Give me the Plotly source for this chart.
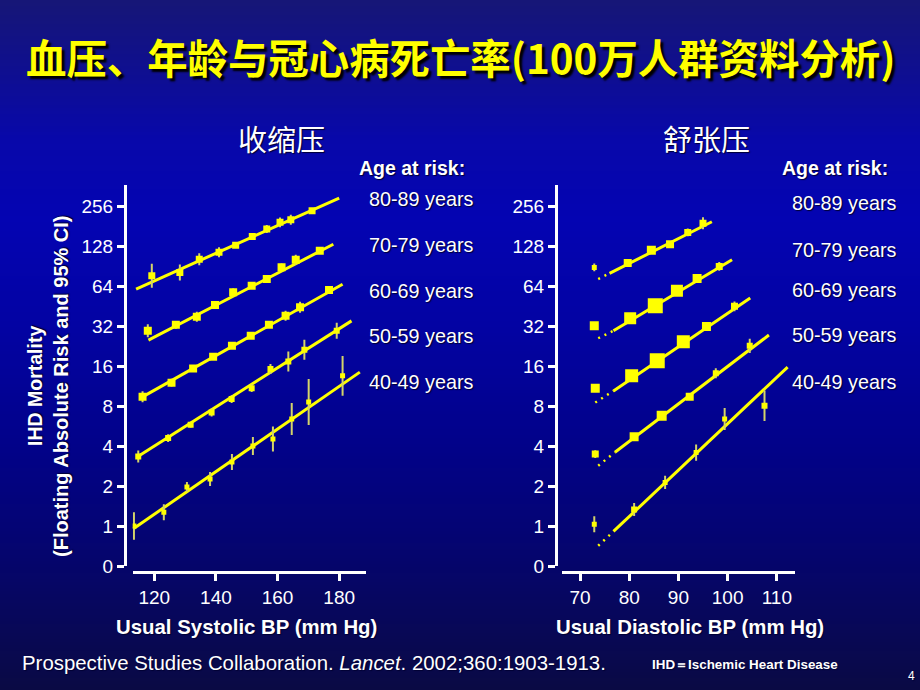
import plotly.graph_objects as go

# ---------------- data ----------------
y_tick_vals = [0.5, 1, 2, 4, 8, 16, 32, 64, 128, 256]
y_tick_text = ["0", "1", "2", "4", "8", "16", "32", "64", "128", "256"]
sys_tick_vals = [120, 140, 160, 180]
dia_tick_vals = [70, 80, 90, 100, 110]
age_labels = ["80-89 years", "70-79 years", "60-69 years", "50-59 years", "40-49 years"]

# Systolic panel: usual SBP (mm Hg), IHD mortality (floating absolute risk), CI factor
sys_bp_80_89 = [119.2, 128.3, 134.6, 141.0, 146.4, 151.8, 156.5, 160.8, 164.3, 171.2]
sys_rate_80_89 = [76.6, 81, 102, 115, 130, 151, 172, 193, 202, 236]
sys_ci_80_89 = [1.23, 1.15, 1.11, 1.09, 1.05, 1.05, 1.07, 1.09, 1.09, 1.05]
sys_bp_70_79 = [117.9, 127.0, 133.8, 139.7, 145.6, 151.6, 156.5, 161.3, 165.9, 173.7]
sys_rate_70_79 = [29.5, 32.7, 37.6, 46.1, 57.4, 64.4, 72.3, 88.6, 101, 118]
sys_ci_70_79 = [1.12, 1.07, 1.09, 1.05, 1.07, 1.05, 1.05, 1.07, 1.09, 1.05]
sys_bp_60_69 = [116.2, 125.6, 132.6, 139.1, 145.2, 151.3, 157.2, 162.6, 167.3, 176.7]
sys_rate_60_69 = [9.4, 12.0, 15.3, 18.8, 22.7, 27.1, 32.7, 38.3, 44.3, 59.7]
sys_ci_60_69 = [1.10, 1.07, 1.05, 1.05, 1.05, 1.05, 1.05, 1.09, 1.10, 1.05]
sys_bp_50_59 = [114.8, 124.5, 131.8, 138.6, 145.1, 151.6, 157.7, 163.5, 168.7, 179.2]
sys_rate_50_59 = [3.34, 4.59, 5.78, 7.15, 9.03, 10.9, 15.2, 17.3, 21.2, 29.5]
sys_ci_50_59 = [1.11, 1.07, 1.05, 1.07, 1.07, 1.07, 1.09, 1.19, 1.19, 1.15]
sys_bp_40_49 = [113.4, 123.1, 130.6, 138.1, 145.2, 152.0, 158.5, 164.6, 170.1, 181.1]
sys_rate_40_49 = [1.0, 1.27, 1.97, 2.26, 3.03, 4.0, 4.52, 6.39, 8.57, 13.5]
sys_ci_40_49 = [1.27, 1.15, 1.09, 1.13, 1.15, 1.17, 1.24, 1.32, 1.49, 1.41]

# Systolic regression lines (start/end)
sys_fit_bp_80_89 = [114.1, 180.0]
sys_fit_rate_80_89 = [60.8, 294]
sys_fit_bp_70_79 = [118.1, 178.1]
sys_fit_rate_70_79 = [25.1, 132]
sys_fit_bp_60_69 = [115.9, 181.1]
sys_fit_rate_60_69 = [9.3, 66]
sys_fit_bp_50_59 = [114.3, 184.0]
sys_fit_rate_50_59 = [3.29, 35]
sys_fit_bp_40_49 = [113.1, 186.7]
sys_fit_rate_40_49 = [0.95, 14.4]

# Diastolic panel
dia_bp_80_89 = [72.9, 79.7, 84.5, 88.3, 91.9, 95.0]
dia_rate_80_89 = [88.4, 95.3, 119, 132, 162, 190]
dia_ci_80_89 = [1.07, 1.04, 1.04, 1.04, 1.07, 1.11]
dia_bp_70_79 = [72.9, 80.2, 85.3, 89.7, 93.8, 98.3]
dia_rate_70_79 = [32.2, 36.6, 45.5, 59, 73.1, 90]
dia_ci_70_79 = [1.04, 1.03, 1.03, 1.03, 1.04, 1.08]
dia_bp_60_69 = [73.1, 80.5, 85.7, 91.0, 95.7, 101.4]
dia_rate_60_69 = [10.9, 13.5, 17.5, 24.4, 31.8, 45]
dia_ci_60_69 = [1.04, 1.03, 1.03, 1.03, 1.04, 1.09]
dia_bp_50_59 = [73.1, 81.0, 86.6, 92.3, 97.6, 104.5]
dia_rate_50_59 = [3.48, 4.7, 6.75, 9.4, 14.1, 22.7]
dia_ci_50_59 = [1.07, 1.04, 1.03, 1.04, 1.09, 1.13]
dia_bp_40_49 = [72.9, 81.0, 87.3, 93.6, 99.4, 107.5]
dia_rate_40_49 = [1.03, 1.33, 2.13, 3.57, 6.39, 8.04]
dia_ci_40_49 = [1.15, 1.12, 1.12, 1.15, 1.21, 1.30]

# Diastolic regression lines (solid) and dotted extrapolations
dia_fit_bp_80_89 = [76.0, 96.8]
dia_fit_rate_80_89 = [79.8, 195]
dia_dot_bp_80_89 = [73.7, 76.0]
dia_dot_rate_80_89 = [72.3, 79.8]
dia_fit_bp_70_79 = [76.8, 100.9]
dia_fit_rate_70_79 = [29.5, 101]
dia_dot_bp_70_79 = [73.7, 76.8]
dia_dot_rate_70_79 = [25.9, 29.5]
dia_fit_bp_60_69 = [76.8, 104.6]
dia_fit_rate_60_69 = [10.4, 52]
dia_dot_bp_60_69 = [73.1, 76.8]
dia_dot_rate_60_69 = [8.5, 10.4]
dia_fit_bp_50_59 = [77.1, 108.4]
dia_fit_rate_50_59 = [3.59, 27.4]
dia_dot_bp_50_59 = [73.7, 77.1]
dia_dot_rate_50_59 = [2.84, 3.59]
dia_fit_bp_40_49 = [76.8, 112.2]
dia_fit_rate_40_49 = [0.91, 15.7]
dia_dot_bp_40_49 = [73.7, 76.8]
dia_dot_rate_40_49 = [0.71, 0.91]

# ---------------- styles ----------------
W, H = 920, 690
YELLOW = "#FFFF00"
ERR = "#d4d46a"
LAT = "Liberation Sans, Arial, sans-serif"
CJK = "Noto Sans CJK SC, sans-serif"

sys_marker_px = {"80": 7, "70": 8, "60": 8, "50": 6, "40": 5}
dia_marker_px = {
    "80": [5, 8, 9, 8, 7, 7],
    "70": [9, 12, 15, 12, 9, 7],
    "60": [9, 13, 15, 13, 9, 7],
    "50": [7, 9, 10, 8, 6, 6],
    "40": [5, 6, 5, 5, 5, 6],
}


def px2paper_x(px):
    return px / W


def px2paper_y(py):
    return 1 - py / H


fig = go.Figure()


def add_points(bp, rate, ci, size, xa, ya):
    hi = [r * f - r for r, f in zip(rate, ci)]
    lo = [r - r / f for r, f in zip(rate, ci)]
    fig.add_trace(go.Scatter(
        x=bp, y=rate, mode="markers", xaxis=xa, yaxis=ya,
        marker=dict(symbol="square", color=YELLOW, size=size, opacity=1, line=dict(width=0)),
        error_y=dict(type="data", symmetric=False, array=hi, arrayminus=lo,
                     color=ERR, thickness=2, width=0),
        showlegend=False, hoverinfo="x+y"))


def add_line(bp, rate, xa, ya, dash="solid", width=3):
    fig.add_trace(go.Scatter(
        x=bp, y=rate, mode="lines", xaxis=xa, yaxis=ya,
        line=dict(color=YELLOW, width=width, dash=dash),
        showlegend=False, hoverinfo="skip"))


sys_sets = [
    ("80", sys_bp_80_89, sys_rate_80_89, sys_ci_80_89, sys_fit_bp_80_89, sys_fit_rate_80_89),
    ("70", sys_bp_70_79, sys_rate_70_79, sys_ci_70_79, sys_fit_bp_70_79, sys_fit_rate_70_79),
    ("60", sys_bp_60_69, sys_rate_60_69, sys_ci_60_69, sys_fit_bp_60_69, sys_fit_rate_60_69),
    ("50", sys_bp_50_59, sys_rate_50_59, sys_ci_50_59, sys_fit_bp_50_59, sys_fit_rate_50_59),
    ("40", sys_bp_40_49, sys_rate_40_49, sys_ci_40_49, sys_fit_bp_40_49, sys_fit_rate_40_49),
]
for key, bp, rate, ci, fbp, frate in sys_sets:
    add_line(fbp, frate, "x", "y")
    add_points(bp, rate, ci, sys_marker_px[key], "x", "y")

dia_sets = [
    ("80", dia_bp_80_89, dia_rate_80_89, dia_ci_80_89, dia_fit_bp_80_89, dia_fit_rate_80_89, dia_dot_bp_80_89, dia_dot_rate_80_89),
    ("70", dia_bp_70_79, dia_rate_70_79, dia_ci_70_79, dia_fit_bp_70_79, dia_fit_rate_70_79, dia_dot_bp_70_79, dia_dot_rate_70_79),
    ("60", dia_bp_60_69, dia_rate_60_69, dia_ci_60_69, dia_fit_bp_60_69, dia_fit_rate_60_69, dia_dot_bp_60_69, dia_dot_rate_60_69),
    ("50", dia_bp_50_59, dia_rate_50_59, dia_ci_50_59, dia_fit_bp_50_59, dia_fit_rate_50_59, dia_dot_bp_50_59, dia_dot_rate_50_59),
    ("40", dia_bp_40_49, dia_rate_40_49, dia_ci_40_49, dia_fit_bp_40_49, dia_fit_rate_40_49, dia_dot_bp_40_49, dia_dot_rate_40_49),
]
for key, bp, rate, ci, fbp, frate, dbp, drate in dia_sets:
    add_line(dbp, drate, "x2", "y2", dash="2px,5px", width=2.5)
    add_line(fbp, frate, "x2", "y2")
    add_points(bp, rate, ci, dia_marker_px[key], "x2", "y2")

# ---------------- background gradient ----------------
stops = [(0, (22, 22, 118)), (60, (16, 16, 140)), (140, (8, 8, 170)), (220, (4, 4, 178)),
         (330, (3, 3, 162)), (450, (2, 2, 136)), (560, (5, 5, 108)), (690, (10, 10, 68))]


def color_at(py):
    for (y0, c0), (y1, c1) in zip(stops[:-1], stops[1:]):
        if y0 <= py <= y1:
            t = (py - y0) / (y1 - y0)
            return "rgb(%d,%d,%d)" % tuple(round(a + (b - a) * t) for a, b in zip(c0, c1))
    return "rgb(%d,%d,%d)" % stops[-1][1]


shapes = []
band = 3
for y in range(0, H, band):
    shapes.append(dict(type="rect", xref="paper", yref="paper", layer="below",
                       x0=0, x1=1, y0=px2paper_y(y + band + 0.5), y1=px2paper_y(y),
                       fillcolor=color_at(y + band / 2), line=dict(width=0)))

# ---------------- axes ----------------
y_dom = [px2paper_y(566), px2paper_y(185)]
y_range = [-0.30103, 2.5668]
axis_common = dict(showline=True, linecolor="white", linewidth=3, ticks="outside",
                   ticklen=7, tickwidth=3, tickcolor="white", showgrid=False,
                   zeroline=False, fixedrange=True, automargin=False,
                   tickfont=dict(family=LAT, size=19, color="white"))

fig.update_layout(
    xaxis=dict(domain=[px2paper_x(132.7), px2paper_x(365.7)], range=[113.0, 188.6],
               anchor="free", position=px2paper_y(572.3), tickvals=sys_tick_vals, **axis_common),
    yaxis=dict(domain=y_dom, type="log", range=y_range, anchor="free",
               position=px2paper_x(125), tickvals=y_tick_vals, ticktext=y_tick_text, **axis_common),
    xaxis2=dict(domain=[px2paper_x(562.3), px2paper_x(795)], range=[66.4, 113.7],
                anchor="free", position=px2paper_y(572.3), tickvals=dia_tick_vals, **axis_common),
    yaxis2=dict(domain=y_dom, type="log", range=y_range, anchor="free",
                position=px2paper_x(556), tickvals=y_tick_vals, ticktext=y_tick_text, **axis_common),
)

# ---------------- text ----------------
anns = []


def ann(text, px, py, size, color="white", family=LAT, angle=0, xanchor="center", shadow="1px 1px 1px #000033"):
    anns.append(dict(text=text, x=px2paper_x(px), y=px2paper_y(py), xref="paper", yref="paper",
                     showarrow=False, xanchor=xanchor, yanchor="middle", textangle=angle,
                     font=dict(family=family, size=size, color=color, shadow=shadow)))


ann("<b>血压、年龄与冠心病死亡率(100万人群资料分析)</b>", 460, 57, 40.4, color=YELLOW,
    family=CJK, shadow="3px 3px 2px #000000")
ann("收缩压", 281, 138, 29, family=CJK)
ann("舒张压", 706, 138, 29, family=CJK)
ann("<b>Age at risk:</b>", 412, 168, 19.5)
ann("<b>Age at risk:</b>", 835, 168, 19.5)
left_label_y = [199, 245, 291, 336, 382]
right_label_y = [203, 250, 290, 335, 382]
for lab, ly in zip(age_labels, left_label_y):
    ann(lab, 421, ly, 19.8)
for lab, ly in zip(age_labels, right_label_y):
    ann(lab, 844, ly, 19.8)
ann("<b>IHD Mortality</b>", 35, 386, 19.5, angle=-90)
ann("<b>(Floating Absolute Risk and 95% CI)</b>", 61, 386, 20, angle=-90)
ann("<b>Usual Systolic BP (mm Hg)</b>", 246.5, 627, 20.4)
ann("<b>Usual Diastolic BP (mm Hg)</b>", 690, 627, 20.4)
ann("Prospective Studies Collaboration. <i>Lancet</i>. 2002;360:1903-1913.", 20, 663, 20.4,
    xanchor="left")
ann("<b>IHD＝Ischemic Heart Disease</b>", 745, 664, 13.4)
ann("4", 911, 676, 12)

fig.update_layout(
    template="none",
    width=W, height=H, autosize=False, margin=dict(l=0, r=0, t=0, b=0, pad=0, autoexpand=False),
    paper_bgcolor="rgb(6,6,120)", plot_bgcolor="rgba(0,0,0,0)",
    shapes=shapes, annotations=anns, showlegend=False,
)

fig.write_html("out.html", config={"displayModeBar": False, "responsive": False},
               post_script="document.body.style.margin='0';document.body.style.overflow='hidden';")
